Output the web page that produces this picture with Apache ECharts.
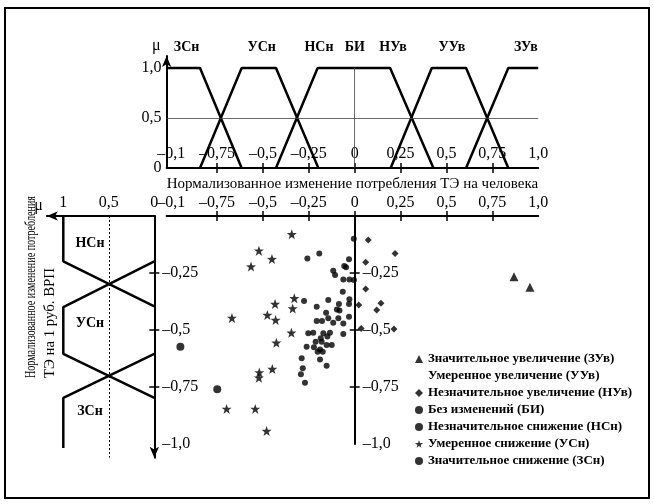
<!DOCTYPE html>
<html><head><meta charset="utf-8">
<script src="https://cdn.jsdelivr.net/npm/echarts@6/dist/echarts.min.js"></script>
<style>html,body{margin:0;padding:0;background:#fff}#c{width:654px;height:504px}</style>
</head><body><div id="c"></div>
<script>
// ---------- tick values & labels ----------
const xTickValues = [-1, -0.75, -0.5, -0.25, 0, 0.25, 0.5, 0.75, 1];
const xTickLabels = ['–0,1', '–0,75', '–0,5', '–0,25', '0', '0,25', '0,5', '0,75', '1,0'];
const xTickMarks = [-0.75, -0.5, -0.25, 0, 0.25, 0.5, 0.75];
const muTickValues = [0, 0.5, 1];
const muTickLabelsTop = ['0', '0,5', '1,0'];
const muTickLabelsLeft = ['0', '0,5', '1'];
const yTickValues = [-0.25, -0.5, -0.75, -1];
const yTickLabels = ['–0,25', '–0,5', '–0,75', '–1,0'];
const yTickMarks = [-0.25, -0.5, -0.75];

// ---------- membership functions, top panel: [x, mu] ----------
const topZSn = [[-1.025, 1], [-0.843, 1], [-0.616, 0]];
const topUSn = [[-0.843, 0], [-0.616, 1], [-0.429, 1], [-0.198, 0]];
const topNSnBI = [[-0.429, 0], [-0.202, 1], [0.193, 1], [0.429, 0]];
const topNUvUUv = [[0.196, 0], [0.42, 1], [0.607, 1], [0.837, 0]];
const topZUv = [[0.607, 0], [0.837, 1], [1.0, 1]];
const topSetNames = ['ЗСн', 'УСн', 'НСн', 'БИ', 'НУв', 'УУв', 'ЗУв'];
const topSetNameX = [-0.916, -0.507, -0.195, 0, 0.209, 0.53, 0.933];

// ---------- membership functions, left panel: [mu, y] ----------
const leftNSn = [[1, 0], [1, -0.199], [0, -0.396]];
const leftUSn = [[0, -0.199], [1, -0.40], [1, -0.605], [0, -0.798]];
const leftZSn = [[0, -0.605], [1, -0.798], [1, -1.018]];
const leftSetNames = ['НСн', 'УСн', 'ЗСн'];
const leftSetNameCoords = [[0.707, -0.12], [0.707, -0.469], [0.707, -0.858]];

// ---------- scatter data: [x, y] ----------
const ptsZUv = [[0.868, -0.266], [0.955, -0.313]];
const ptsUUv = [];
const ptsNUv = [[0.074, -0.105], [0.220, -0.164], [0.060, -0.203], [0.060, -0.320], [0.022, -0.390],
  [0.143, -0.383], [0.120, -0.412], [0.035, -0.493], [0.214, -0.496]];
const ptsBI = [[-0.005, -0.100], [-0.031, -0.190], [-0.029, -0.278], [-0.004, -0.281], [-0.029, -0.365],
  [-0.031, -0.386], [-0.031, -0.442]];
const ptsNSn = [[-0.193, -0.164], [-0.258, -0.186], [-0.047, -0.225], [-0.057, -0.219], [-0.117, -0.240],
  [-0.107, -0.259], [-0.062, -0.278], [-0.065, -0.332], [-0.276, -0.373], [-0.144, -0.368],
  [-0.086, -0.386], [-0.097, -0.410], [-0.083, -0.415], [-0.207, -0.398], [-0.156, -0.424],
  [-0.178, -0.461], [-0.207, -0.461], [-0.144, -0.449], [-0.117, -0.468], [-0.089, -0.449],
  [-0.062, -0.471], [-0.253, -0.514], [-0.226, -0.512], [-0.171, -0.514], [-0.135, -0.512],
  [-0.149, -0.529], [-0.185, -0.536], [-0.062, -0.518], [-0.213, -0.551], [-0.180, -0.551],
  [-0.262, -0.573], [-0.222, -0.576], [-0.189, -0.585], [-0.153, -0.566], [-0.125, -0.566],
  [-0.202, -0.595], [-0.174, -0.595], [-0.289, -0.624], [-0.189, -0.629], [-0.283, -0.668],
  [-0.153, -0.657], [-0.293, -0.694], [-0.271, -0.731]];
const ptsUSn = [[-0.343, -0.080], [-0.522, -0.152], [-0.451, -0.189], [-0.565, -0.222], [-0.329, -0.361],
  [-0.434, -0.386], [-0.338, -0.406], [-0.669, -0.447], [-0.476, -0.434], [-0.431, -0.456],
  [-0.345, -0.512], [-0.427, -0.556], [-0.449, -0.671], [-0.520, -0.686], [-0.522, -0.709],
  [-0.698, -0.846], [-0.542, -0.846], [-0.480, -0.943]];
const ptsZSn = [[-0.950, -0.573], [-0.749, -0.760]];

const legendNames = ['Значительное увеличение (ЗУв)', 'Умеренное увеличение (УУв)',
  'Незначительное увеличение (НУв)', 'Без изменений (БИ)', 'Незначительное снижение (НСн)',
  'Умеренное снижение (УСн)', 'Значительное снижение (ЗСн)'];

// ---------- styling ----------
const FONT = 'Liberation Serif';
const INK = '#000';
const STAR = 'path://M12,0L14.9,8.1L23.4,8.2L16.6,13.4L19.1,21.6L12,16.7L4.9,21.6L7.4,13.4L0.6,8.2L9.1,8.1Z';
function fmt(values, labels) {
  return v => { const i = values.findIndex(t => Math.abs(t - v) < 1e-6); return i < 0 ? '' : labels[i]; };
}
const lblStyle = { fontFamily: FONT, fontSize: 16, color: INK };
const lineAx = { show: true, lineStyle: { color: INK, width: 2 } };

const chart = echarts.init(document.getElementById('c'));

const X0 = 354.7, XS = 183.5, XMIN = -1.025, XMAX = 1.0;
const gA = { left: X0 + XMIN * XS, top: 56, width: (XMAX - XMIN) * XS, height: 112, outerBoundsMode: 'none' };
const gB = { left: X0 + XMIN * XS, top: 216, width: (XMAX - XMIN) * XS, height: 228, outerBoundsMode: 'none' };
const gC = { left: 154.3 - 1.18 * 91, top: 216, width: 1.18 * 91, height: 1.06 * 228, outerBoundsMode: 'none' };
const zeroOffset = -XMAX * XS; // moves the right-hand y axis onto x = 0

function lineSeries(data, xi, yi, extra) {
  return Object.assign({
    type: 'line', data, xAxisIndex: xi, yAxisIndex: yi, showSymbol: false, symbol: 'none',
    lineStyle: { color: INK, width: 2.5 }, silent: true, z: 3
  }, extra || {});
}
function scatter(name, data, symbol, size) {
  return { type: 'scatter', name, data, xAxisIndex: 2, yAxisIndex: 1, symbol, symbolSize: size,
    itemStyle: { color: INK }, z: 5 };
}

const option = {
  animation: false,
  backgroundColor: '#fff',
  grid: [gA, gB, gC],
  xAxis: [
    { // 0 top panel main
      gridIndex: 0, type: 'value', min: XMIN, max: XMAX, position: 'bottom',
      axisLine: Object.assign({ onZero: false }, lineAx),
      axisTick: { show: true, customValues: xTickMarks, length: 5, lineStyle: { color: INK, width: 1.5 } },
      axisLabel: Object.assign({ inside: true, margin: 6, customValues: xTickValues, formatter: fmt(xTickValues, xTickLabels) }, lblStyle),
      splitLine: { show: false },
      name: 'Нормализованное изменение потребления ТЭ на человека', nameLocation: 'middle', nameGap: 9,
      nameTextStyle: { fontFamily: FONT, fontSize: 15, color: INK, verticalAlign: 'top' }
    },
    { // 1 top panel inward ticks
      gridIndex: 0, type: 'value', min: XMIN, max: XMAX, position: 'bottom',
      axisLine: { show: false, onZero: false },
      axisTick: { show: true, inside: true, customValues: xTickMarks, length: 5, lineStyle: { color: INK, width: 1.5 } },
      axisLabel: { show: false }, splitLine: { show: false }
    },
    { // 2 scatter main (top)
      gridIndex: 1, type: 'value', min: XMIN, max: XMAX, position: 'top',
      axisLine: Object.assign({ onZero: false }, lineAx),
      axisTick: { show: true, customValues: xTickMarks, length: 5, lineStyle: { color: INK, width: 1.5 } },
      axisLabel: Object.assign({ margin: 5, customValues: xTickValues, formatter: fmt(xTickValues, xTickLabels) }, lblStyle),
      splitLine: { show: false }
    },
    { // 3 scatter inward ticks
      gridIndex: 1, type: 'value', min: XMIN, max: XMAX, position: 'top',
      axisLine: { show: false, onZero: false },
      axisTick: { show: true, inside: true, customValues: xTickMarks, length: 5, lineStyle: { color: INK, width: 1.5 } },
      axisLabel: { show: false }, splitLine: { show: false }
    },
    { // 4 left panel mu axis
      gridIndex: 2, type: 'value', min: 0, max: 1.18, inverse: true, position: 'top',
      axisLine: { show: true, onZero: false, symbol: ['arrow', 'none'], symbolSize: [7, 11], lineStyle: { color: INK, width: 2 } },
      axisTick: { show: false },
      axisLabel: Object.assign({ margin: 5, customValues: muTickValues, formatter: fmt(muTickValues, muTickLabelsLeft) }, lblStyle),
      splitLine: { show: false },
      name: 'μ', nameLocation: 'end', nameGap: 4,
      nameTextStyle: { fontFamily: FONT, fontSize: 16, color: INK, verticalAlign: 'bottom', padding: [0, 0, 2, 0] }
    }
  ],
  yAxis: [
    { // 0 top panel mu
      gridIndex: 0, type: 'value', min: 0, max: 1.12, position: 'left',
      axisLine: { show: true, onZero: false, symbol: ['none', 'arrow'], symbolSize: [7, 11], lineStyle: { color: INK, width: 2 } },
      axisTick: { show: false },
      axisLabel: Object.assign({ margin: 5, customValues: muTickValues, formatter: fmt(muTickValues, muTickLabelsTop) }, lblStyle),
      splitLine: { show: false },
      name: 'μ', nameLocation: 'end', nameGap: 2,
      nameTextStyle: { fontFamily: FONT, fontSize: 16, color: INK, align: 'right', verticalAlign: 'bottom', padding: [0, 6, 0, 0] }
    },
    { // 1 scatter y main (at x = 0)
      gridIndex: 1, type: 'value', min: -1, max: 0, position: 'right', offset: zeroOffset,
      axisLine: { show: true, onZero: false, lineStyle: { color: INK, width: 2 } },
      axisTick: { show: true, customValues: yTickMarks, length: 5, lineStyle: { color: INK, width: 1.5 } },
      axisLabel: Object.assign({ margin: 8, customValues: yTickValues, formatter: fmt(yTickValues, yTickLabels) }, lblStyle),
      splitLine: { show: false }
    },
    { // 2 scatter y inward ticks
      gridIndex: 1, type: 'value', min: -1, max: 0, position: 'right', offset: zeroOffset,
      axisLine: { show: false, onZero: false },
      axisTick: { show: true, inside: true, customValues: yTickMarks, length: 5, lineStyle: { color: INK, width: 1.5 } },
      axisLabel: { show: false }, splitLine: { show: false }
    },
    { // 3 left panel y main
      gridIndex: 2, type: 'value', min: -1.06, max: 0, position: 'right',
      axisLine: { show: true, onZero: false, symbol: ['arrow', 'none'], symbolSize: [7, 11], lineStyle: { color: INK, width: 2 } },
      axisTick: { show: true, customValues: yTickMarks, length: 5, lineStyle: { color: INK, width: 1.5 } },
      axisLabel: Object.assign({ margin: 8, customValues: yTickValues, formatter: fmt(yTickValues, yTickLabels) }, lblStyle),
      splitLine: { show: false }
    },
    { // 4 left panel inward ticks
      gridIndex: 2, type: 'value', min: -1.06, max: 0, position: 'right',
      axisLine: { show: false, onZero: false },
      axisTick: { show: true, inside: true, customValues: yTickMarks, length: 5, lineStyle: { color: INK, width: 1.5 } },
      axisLabel: { show: false }, splitLine: { show: false }
    }
  ],
  legend: {
    orient: 'vertical', left: 410, top: 347, itemWidth: 8, itemHeight: 8, itemGap: 3,
    textStyle: { fontFamily: FONT, fontSize: 13, fontWeight: 'bold', color: INK, lineHeight: 14 },
    selectedMode: false,
    data: [
      { name: legendNames[0], icon: 'triangle' },
      { name: legendNames[1], icon: 'circle' },
      { name: legendNames[2], icon: 'diamond' },
      { name: legendNames[3], icon: 'circle' },
      { name: legendNames[4], icon: 'circle' },
      { name: legendNames[5], icon: STAR },
      { name: legendNames[6], icon: 'circle' }
    ]
  },
  series: [
    lineSeries(topZSn, 0, 0, {
      markLine: {
        silent: true, symbol: 'none', label: { show: false },
        lineStyle: { color: '#444', width: 0.8, type: 'solid' },
        data: [{ yAxis: 0.5 }, [{ coord: [0, 0] }, { coord: [0, 1] }]]
      }
    }),
    lineSeries(topUSn, 0, 0),
    lineSeries(topNSnBI, 0, 0),
    lineSeries(topNUvUUv, 0, 0),
    lineSeries(topZUv, 0, 0),
    lineSeries(leftNSn, 4, 3, {
      markLine: {
        silent: true, symbol: 'none', label: { show: false },
        lineStyle: { color: INK, width: 1, type: [2, 2] },
        data: [[{ coord: [0.5, 0] }, { coord: [0.5, -1.06] }]]
      }
    }),
    lineSeries(leftUSn, 4, 3),
    lineSeries(leftZSn, 4, 3),
    scatter(legendNames[0], ptsZUv, 'triangle', 9),
    { type: 'scatter', name: legendNames[1], data: ptsUUv, xAxisIndex: 2, yAxisIndex: 1, itemStyle: { color: 'rgba(0,0,0,0)' } },
    scatter(legendNames[2], ptsNUv, 'diamond', 7),
    scatter(legendNames[3], ptsBI, 'circle', 6),
    scatter(legendNames[4], ptsNSn, 'circle', 6),
    scatter(legendNames[5], ptsUSn, STAR, 10),
    scatter(legendNames[6], ptsZSn, 'circle', 8)
  ]
};
chart.setOption(option);

// ---------- text labels & frame ----------
function measure(text, font) {
  const c = document.createElement('canvas').getContext('2d');
  c.font = font; return c.measureText(text).width;
}
const gfx = [];
gfx.push({ type: 'rect', shape: { x: 5, y: 8, width: 644, height: 490 }, style: { fill: 'none', stroke: INK, lineWidth: 2 }, z: 10, silent: true });
topSetNames.forEach((n, i) => {
  const x = chart.convertToPixel({ xAxisIndex: 0 }, topSetNameX[i]);
  gfx.push({ type: 'text', x, y: 47, style: { text: n, fontFamily: FONT, fontSize: 14, fontWeight: 'bold', fill: INK, align: 'center', verticalAlign: 'middle' }, silent: true });
});
leftSetNames.forEach((n, i) => {
  const p = chart.convertToPixel({ xAxisIndex: 4, yAxisIndex: 3 }, leftSetNameCoords[i]);
  gfx.push({ type: 'text', x: p[0], y: p[1], style: { text: n, fontFamily: FONT, fontSize: 14, fontWeight: 'bold', fill: INK, align: 'center', verticalAlign: 'middle' }, silent: true });
});
const yTitle = ['Нормализованное изменение потребления', 'ТЭ на 1 руб. ВРП'];
const yTitleLen = [182, 110];
const yTitleX = [31, 50];
yTitle.forEach((t, i) => {
  const w = measure(t, '15px "' + FONT + '"');
  gfx.push({ type: 'text', x: yTitleX[i], y: 378, rotation: Math.PI / 2, scaleX: yTitleLen[i] / w,
    style: { text: t, fontFamily: FONT, fontSize: 15, fill: INK, align: 'left', verticalAlign: 'middle' }, silent: true });
});
chart.setOption({ graphic: gfx });
</script>
</body></html>
